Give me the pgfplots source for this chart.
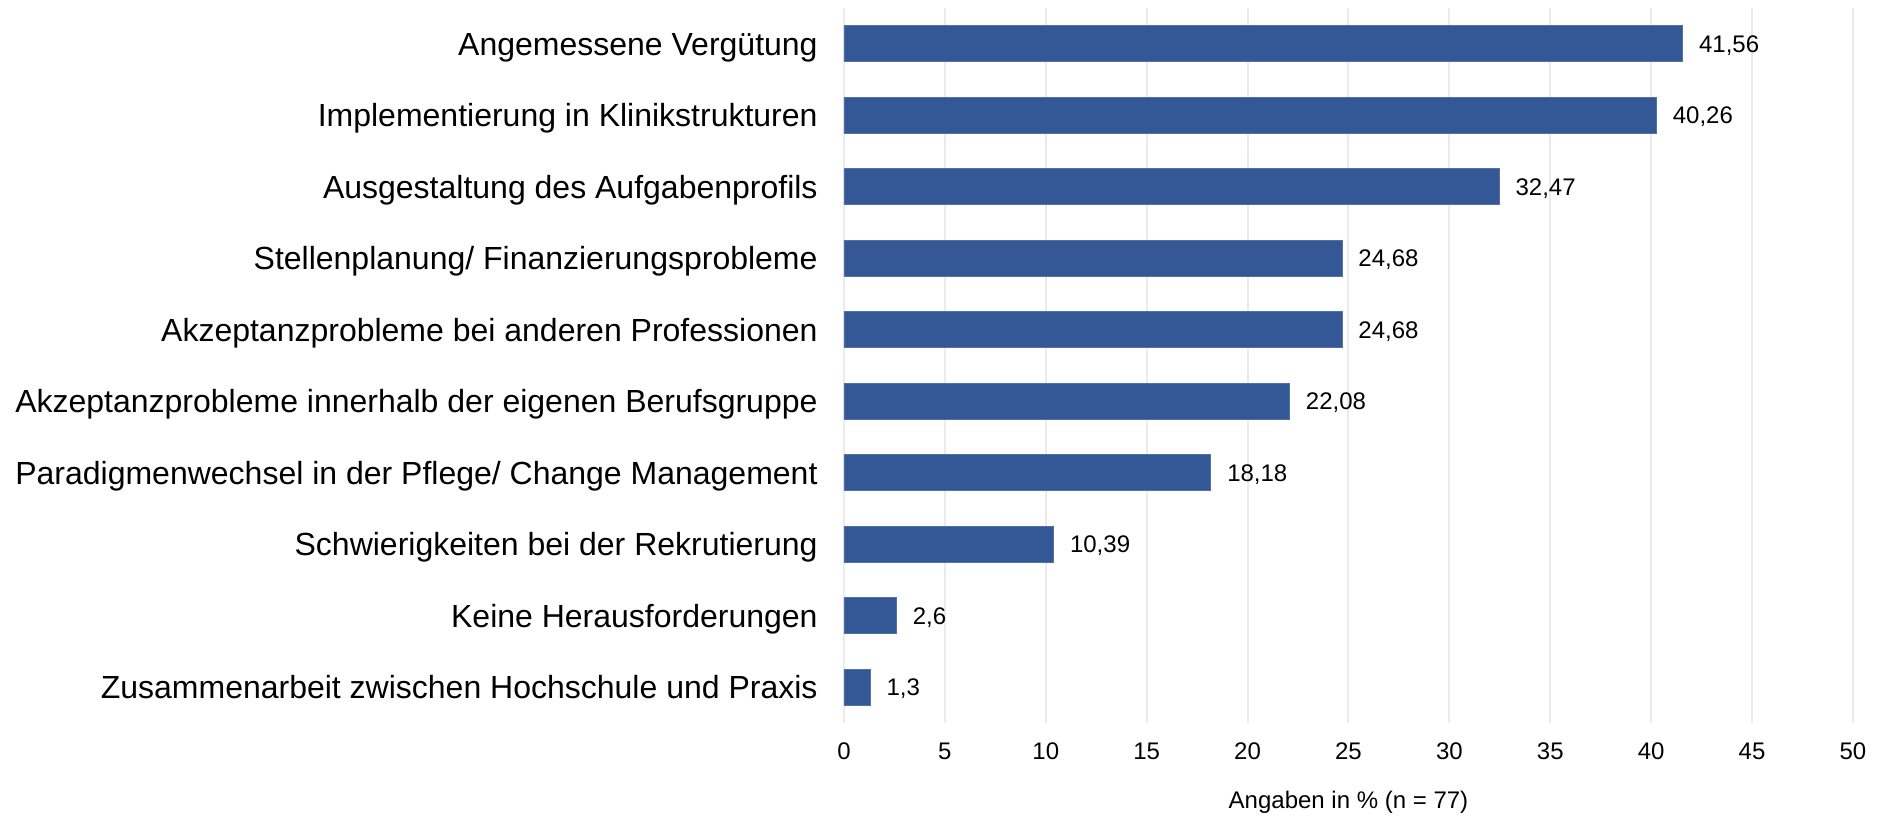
\documentclass[border=0pt]{standalone}
\usepackage{fontspec}
\setmainfont{Liberation Sans}
\usepackage{pgfplots}
\pgfplotsset{compat=1.18}

\definecolor{barblue}{RGB}{52,88,150}
\definecolor{gridgray}{RGB}{235,235,235}

\pgfplotstableread{
y  val
10 41.56
9  40.26
8  32.47
7  24.68
6  24.68
5  22.08
4  18.18
3  10.39
2  2.6
1  1.3
}\hindernisse

\begin{document}
\begin{tikzpicture}
\begin{axis}[
    scale only axis,
    width=504.5pt, height=357.5pt,
    xbar, bar width=18pt,
    xmin=0, xmax=50,
    ymin=0.5, ymax=10.5,
    xtick={0,5,...,50},
    ytick={1,...,10},
    yticklabels={
      Zusammenarbeit zwischen Hochschule und Praxis,
      Keine Herausforderungen,
      Schwierigkeiten bei der Rekrutierung,
      Paradigmenwechsel in der Pflege/ Change Management,
      Akzeptanzprobleme innerhalb der eigenen Berufsgruppe,
      Akzeptanzprobleme bei anderen Professionen,
      Stellenplanung/ Finanzierungsprobleme,
      Ausgestaltung des Aufgabenprofils,
      Implementierung in Klinikstrukturen,
      Angemessene Vergütung},
    axis line style={draw=none},
    major tick length=0pt,
    xmajorgrids, ymajorgrids=false,
    grid style={gridgray, line width=1pt},
    /pgf/number format/assume math mode=true,
    xticklabel style={font=\fontsize{12}{14}\selectfont, anchor=base, inner sep=0pt, yshift=-18pt},
    yticklabel style={font=\fontsize{16}{19}\selectfont, anchor=base east, inner sep=0pt, xshift=-13pt, yshift=-5.7pt},
    xlabel={Angaben in \% (n = 77)},
    xlabel style={font=\fontsize{12}{14}\selectfont, at={(axis description cs:0.5,0)}, anchor=base, inner sep=0pt, yshift=-42.5pt},
    nodes near coords,
    nodes near coords style={font=\fontsize{12}{14}\selectfont, anchor=base west, inner sep=0pt, xshift=8pt, yshift=-4.3pt,
      /pgf/number format/use comma, /pgf/number format/precision=2, /pgf/number format/assume math mode=true},
    clip=false,
]
\addplot[fill=barblue, draw=barblue!85!white, line width=0.4pt] table[x=val, y=y] {\hindernisse};
\coordinate (bl) at (rel axis cs:0,0);
\end{axis}
\pgfresetboundingbox
\path[use as bounding box] ([shift={(-422pt,-46.5pt)}]bl) rectangle ++(939.5pt,408pt);
\end{tikzpicture}
\end{document}
